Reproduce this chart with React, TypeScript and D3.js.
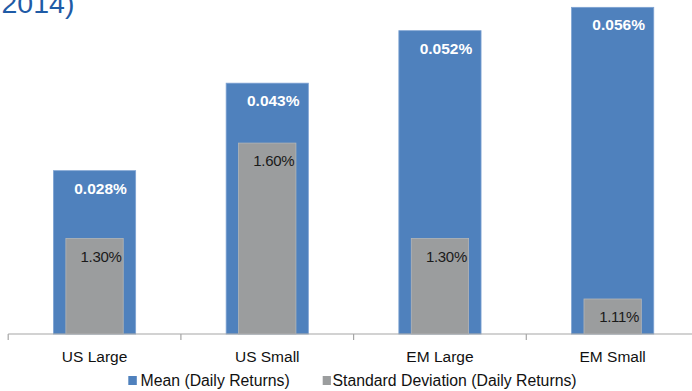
import React from "react";
import * as d3 from "d3";

// Asset classes and their daily-return statistics (in percent)
const categories = ["US Large", "US Small", "EM Large", "EM Small"];
const meanDaily = [0.028, 0.043, 0.052, 0.056];
const stdDaily = [1.3, 1.6, 1.3, 1.11];
const meanLabels = ["0.028%", "0.043%", "0.052%", "0.056%"];
const stdLabels = ["1.30%", "1.60%", "1.30%", "1.11%"];
const seriesNames = ["Mean (Daily Returns)", "Standard Deviation (Daily Returns)"];

const W = 692;
const H = 391;
const FONT = "Arial, 'Liberation Sans', Helvetica, sans-serif";
const BLUE = "#4F81BD";
const GRAY = "#9B9D9E";

export default function App() {
  const baseY = 334;
  const topY = -16;

  const x = d3.scaleBand<string>().domain(categories).range([8.2, 8.2 + 4 * 172.7]).padding(0);
  const band = x.bandwidth();
  const meanW = band * 0.476;
  const stdW = band * 0.332;

  // primary axis for the mean, secondary axis (starting at 1%) for the std dev
  const yMean = d3.scaleLinear().domain([0, 0.06]).range([baseY, topY]);
  const yStd = d3.scaleLinear().domain([1.0, 2.1]).range([baseY, topY]);

  const ticks = [...categories.map((c) => x(c)!), x.range()[1]];

  return (
    <svg
      width={W}
      height={H}
      style={{ position: "absolute", left: 0, top: 0, background: "#fff" }}
      fontFamily={FONT}
    >
      <text x={1.5} y={12.5} fontSize={28.5} fill="#1F5BA6">
        2014)
      </text>

      {categories.map((c, i) => {
        const cx = x(c)! + band / 2;
        const mTop = yMean(meanDaily[i]);
        const sTop = yStd(stdDaily[i]);
        return (
          <g key={c}>
            <rect
              x={cx - meanW / 2}
              y={mTop}
              width={meanW}
              height={baseY - mTop}
              fill={BLUE}
              stroke="#7EA3D3"
              strokeWidth={0.8}
            />
            <rect
              x={cx - stdW / 2}
              y={sTop}
              width={stdW}
              height={baseY - sTop}
              fill={GRAY}
              stroke="#B4B6B7"
              strokeWidth={0.8}
            />
            <text
              x={cx + 6}
              y={mTop + 23}
              textAnchor="middle"
              fontSize={15.5}
              fontWeight="bold"
              fill="#fff"
            >
              {meanLabels[i]}
            </text>
            <text
              x={cx + 6.5}
              y={sTop + 23}
              textAnchor="middle"
              fontSize={15}
              fill="#1a1a1a"
              letterSpacing={-0.3}
            >
              {stdLabels[i]}
            </text>
            <text x={cx} y={362} textAnchor="middle" fontSize={15.5} fill="#111">
              {c}
            </text>
          </g>
        );
      })}

      <line x1={ticks[0]} x2={W + 10} y1={baseY} y2={baseY} stroke="#A6A6A6" strokeWidth={1.2} />
      {ticks.map((t, i) => (
        <line key={i} x1={t} x2={t} y1={baseY} y2={baseY + 6} stroke="#A6A6A6" strokeWidth={1.2} />
      ))}

      <g fontSize={15.8} fill="#111">
        <rect x={128.3} y={376} width={8.5} height={9} fill={BLUE} />
        <text x={140.5} y={385.5} fill="#111">
          {seriesNames[0]}
        </text>
        <rect x={322.7} y={376} width={8.2} height={9} fill={GRAY} />
        <text x={332.5} y={385.5} fill="#111">
          {seriesNames[1]}
        </text>
      </g>
    </svg>
  );
}
